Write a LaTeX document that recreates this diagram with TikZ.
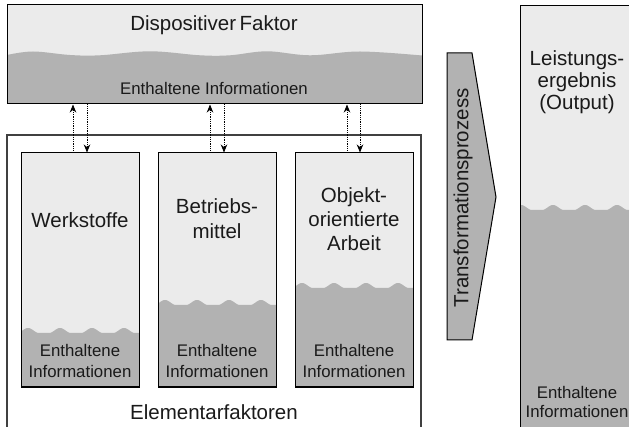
\documentclass[tikz,border=0pt]{standalone}
\usepackage{fontspec}
\setmainfont{Liberation Sans}
\usetikzlibrary{arrows.meta}
\definecolor{lightfill}{HTML}{EBEBEB}
\definecolor{darkfill}{HTML}{B2B2B2}
\definecolor{inkcol}{HTML}{1A1A1A}
% rounded bump of height 1 over 22pt, followed by a flat stretch, period 32pt
\pgfmathdeclarefunction{bump}{1}{%
  \pgfmathparse{(mod(#1+320,32)<22)*0.5*(1-cos(mod(#1+320,32)*360/22))}%
}
\begin{document}
\begin{tikzpicture}[x=1pt,y=-1pt,
  frame/.style={draw=black,line width=1pt,fill=none,inner sep=0pt},
  outerframe/.style={draw=black!75,line width=1.3pt,fill=none,inner sep=0pt},
  bigtext/.style={text=inkcol,align=center,font=\fontsize{20.5}{24}\selectfont,inner sep=0pt},
  smalltext/.style={text=inkcol,align=center,font=\fontsize{16.8}{21}\selectfont,inner sep=0pt},
  flow/.style={densely dotted,line width=0.8pt,-{Stealth[length=8pt,width=6.5pt]}}]
\useasboundingbox (0,0) rectangle (629,427);
\clip (0,0) rectangle (629,427);

% dispositive factor: light band with a gently waving darker layer
\fill[lightfill] (7,5) rectangle (422,104);
\fill[darkfill] plot[smooth,tension=0.6] coordinates {(7,55) (33,51.5) (70,55) (100,55.3) (150,51.3) (200,55.3) (230,55.3) (267,51.3) (310,55.3) (360,51.5) (422,55.5)}
  -- (422,104) -- (7,104) -- cycle;
\node[frame,minimum width=415pt,minimum height=99pt] (disp) at (214.5,54.5) {};
\node[bigtext] (dispT) at (214,25) {Dispositiver\,Faktor};
\node[smalltext] (dispI) at (214,88) {Enthaltene Informationen};

% frame of the elementary factors (open towards the bottom)
\node[outerframe,minimum width=414pt,minimum height=300pt] (elem) at (214,285) {};
\node[bigtext] (elemT) at (214,412) {Elementarfaktoren};

% the three elementary factors, each with its stock of information
\foreach \n/\xa/\lev in {w/21/333, b/158/305, o/295/288} {
  \fill[lightfill] (\xa,153) rectangle ++(118,234);
  \fill[darkfill] plot[domain=\xa:\xa+118,samples=160] (\x,{\lev-5*bump(\x-\xa+4)})
    -- (\xa+118,387) -- (\xa,387) -- cycle;
  \node[frame,minimum width=118pt,minimum height=234pt] (\n) at (\xa+59,270) {};
  \node[smalltext] (\n info) at (\xa+59,361) {Enthaltene\\Informationen};
}
\node[bigtext] (wT) at (80,220) {Werkstoffe};
\node[bigtext,font=\fontsize{20.5}{25}\selectfont] (bT) at (217,219) {Betriebs-\\mittel};
\node[bigtext] (oT) at (354,219) {Objekt-\\orientierte\\Arbeit};

% information exchange between the factors
\foreach \n/\ua/\da in {w/73/87, b/210/224, o/347/360} {
  \draw[flow] (\n.north -| \ua,0) -- (disp.south -| \ua,0);
  \draw[flow] (disp.south -| \da,0) -- (\n.north -| \da,0);
}

% transformation process
\draw[fill=darkfill,line width=1pt] (447,53) coordinate (tA) -- (472,53) -- (496,197) coordinate (tip)
  -- (472,340) -- (447,340) -- cycle;
\node[bigtext,rotate=90] (trT) at (463,198) {Transformationsprozess};

% output of the process
\fill[lightfill] (520,6) rectangle (640,440);
\fill[darkfill] plot[domain=520:640,samples=160] (\x,{210-5*bump(\x-520+10)})
  -- (640,440) -- (520,440) -- cycle;
\node[frame,minimum width=120pt,minimum height=434pt] (out) at (580,223) {};
\node[bigtext,font=\fontsize{20.5}{22}\selectfont] (outT) at (577,82) {Leistungs-\\ergebnis\\(Output)};
\node[smalltext,font=\fontsize{16.8}{19.5}\selectfont] (outI) at (577,402) {Enthaltene\\Informationen};
\end{tikzpicture}
\end{document}
